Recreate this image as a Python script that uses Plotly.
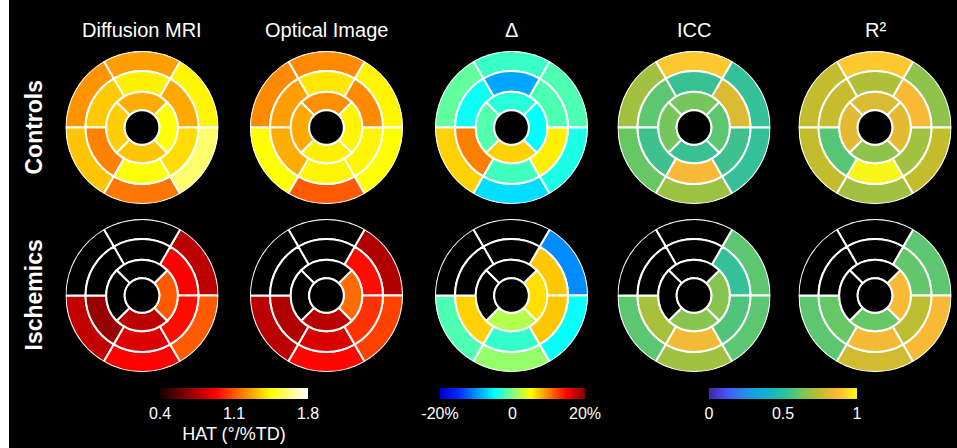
import plotly.graph_objects as go

W, H = 957, 448

# Segment order: outer ring 1-6, middle ring 1-6 (60 deg each, starting east, CCW),
# inner ring 1-4 (90 deg each, centred on N, W, S, E). None = no data.
mri_controls = [1.43, 1.25, 1.23, 1.33, 1.17, 1.60,
                1.27, 1.42, 1.34, 1.19, 1.46, 1.38,
                1.28, 1.35, 1.33, 1.46]
optical_controls = [1.43, 1.21, 1.21, 1.45, 1.11, 1.45,
                    1.21, 1.40, 1.25, 1.28, 1.43, 1.43,
                    1.22, 1.27, 1.42, 1.43]
delta_controls = [-2.0, -2.8, -1.2, 6.8, -6.6, -4.0,
                  -2.0, -9.2, -4.6, 10.0, -2.5, 5.6,
                  -3.5, -1.8, 6.8, -5.0]
icc_controls = [0.52, 0.90, 0.70, 0.61, 0.69, 0.52,
                0.80, 0.53, 0.59, 0.54, 0.86, 0.54,
                0.63, 0.63, 0.53, 0.59]
r2_controls = [0.67, 0.90, 0.75, 0.75, 0.70, 0.75,
               0.86, 0.72, 0.76, 0.58, 0.99, 0.70,
               0.80, 0.82, 0.67, 0.82]

mri_ischemics = [0.77, None, None, 0.79, 0.93, 1.11,
                 0.92, None, None, 0.69, 0.85, 0.95,
                 None, None, 0.77, 1.11]
optical_ischemics = [0.75, None, None, 0.77, 0.94, 1.06,
                     0.95, None, None, 0.75, 0.84, 1.03,
                     None, None, 0.77, 1.15]
delta_ischemics = [-10.4, None, None, -2.0, 0.8, -4.8,
                   7.2, None, None, 6.8, -3.0, 7.2,
                   None, None, 2.0, 6.3]
icc_ischemics = [0.59, None, None, 0.59, 0.70, 0.59,
                 0.52, None, None, 0.71, 0.85, 0.57,
                 None, None, 0.66, 0.66]
r2_ischemics = [0.59, None, None, 0.59, 0.78, 0.86,
                0.60, None, None, 0.61, 0.85, 0.74,
                None, None, 0.61, 0.86]

column_titles = ["Diffusion MRI", "Optical Image", "Δ", "ICC", "R²"]
row_titles = ["Controls", "Ischemics"]

hat_ticks = [0.4, 1.1, 1.8]
hat_ticktext = ["0.4", "1.1", "1.8"]
delta_ticks = [-20, 0, 20]
delta_ticktext = ["-20%", "0", "20%"]
fit_ticks = [0, 0.5, 1]
fit_ticktext = ["0", "0.5", "1"]

# Colour maps
hot = [[0.0, "rgb(20,0,0)"], [0.375, "rgb(255,0,0)"],
       [0.75, "rgb(255,255,0)"], [1.0, "rgb(255,255,255)"]]
jet = [[0.0, "rgb(0,0,200)"], [0.125, "rgb(0,40,255)"], [0.375, "rgb(0,255,255)"],
       [0.625, "rgb(255,255,0)"], [0.875, "rgb(255,0,0)"], [1.0, "rgb(128,0,0)"]]
parula = [[0.0, "rgb(62,38,168)"], [0.12, "rgb(70,85,245)"], [0.25, "rgb(35,145,230)"],
          [0.38, "rgb(15,177,210)"], [0.5, "rgb(40,190,165)"], [0.62, "rgb(110,200,95)"],
          [0.75, "rgb(195,188,45)"], [0.87, "rgb(252,185,55)"], [1.0, "rgb(249,250,20)"]]

# Ring geometry (fraction of outer radius)
r_hole, r_inner, r_mid, r_outer = 0.227, 0.468, 0.738, 1.0
seg_theta = [30, 90, 150, 210, 270, 330] * 2 + [90, 180, 270, 0]
seg_width = [60] * 12 + [90] * 4
seg_base = [r_mid] * 6 + [r_inner] * 6 + [r_hole] * 4
seg_thick = [r_outer - r_mid] * 6 + [r_mid - r_inner] * 6 + [r_inner - r_hole] * 4

col_x = [142, 326.5, 511.5, 694, 875]
row_y = [127.5, 295.5]
R = 76.5

panels = [
    [mri_controls, optical_controls, delta_controls, icc_controls, r2_controls],
    [mri_ischemics, optical_ischemics, delta_ischemics, icc_ischemics, r2_ischemics],
]
scales = [(hot, 0.4, 1.8), (hot, 0.4, 1.8), (jet, -20, 20), (parula, 0, 1), (parula, 0, 1)]

font = "Liberation Sans, Arial, sans-serif"
fig = go.Figure()
layout_polars = {}

colorbars = {
    (1, 0): dict(tickvals=hat_ticks, ticktext=hat_ticktext, x=234 / W, lenpx=148,
                 title="HAT (°/%TD)"),
    (1, 2): dict(tickvals=delta_ticks, ticktext=delta_ticktext, x=512.5 / W, lenpx=145,
                 title=None),
    (1, 3): dict(tickvals=fit_ticks, ticktext=fit_ticktext, x=783 / W, lenpx=148,
                 title=None),
}

k = 0
for ri, row in enumerate(panels):
    for ci, vals in enumerate(row):
        k += 1
        pname = "polar" if k == 1 else f"polar{k}"
        cx, cy = col_x[ci], row_y[ri]
        layout_polars[pname] = dict(
            domain=dict(x=[(cx - R) / W, (cx + R) / W],
                        y=[1 - (cy + R) / H, 1 - (cy - R) / H]),
            bgcolor="black",
            radialaxis=dict(visible=False, range=[0, 1.0]),
            angularaxis=dict(visible=False, rotation=0, direction="counterclockwise"),
            hole=0,
        )
        cmap, lo, hi = scales[ci]
        idx = [i for i, v in enumerate(vals) if v is not None]
        miss = [i for i, v in enumerate(vals) if v is None]
        marker = dict(color=[vals[i] for i in idx], colorscale=cmap, cmin=lo, cmax=hi,
                      line=dict(color="white", width=2))
        cb = colorbars.get((ri, ci))
        if cb:
            marker["showscale"] = True
            marker["colorbar"] = dict(
                orientation="h", x=cb["x"], xanchor="center",
                y=1 - 388 / H, yanchor="top",
                len=cb["lenpx"], lenmode="pixels", thickness=11,
                xpad=0, ypad=0, outlinewidth=0,
                tickvals=cb["tickvals"], ticktext=cb["ticktext"], ticks="",
                tickfont=dict(color="white", size=16, family=font),
                title=dict(text=cb["title"], side="bottom",
                           font=dict(color="white", size=18, family=font)) if cb["title"] else None,
            )
        else:
            marker["showscale"] = False
        fig.add_trace(go.Barpolar(
            r=[seg_thick[i] for i in idx], base=[seg_base[i] for i in idx],
            theta=[seg_theta[i] for i in idx], width=[seg_width[i] for i in idx],
            marker=marker, subplot=pname, hoverinfo="skip", showlegend=False))
        if miss:
            fig.add_trace(go.Barpolar(
                r=[seg_thick[i] for i in miss], base=[seg_base[i] for i in miss],
                theta=[seg_theta[i] for i in miss], width=[seg_width[i] for i in miss],
                marker=dict(color="black", line=dict(color="white", width=2)),
                subplot=pname, hoverinfo="skip", showlegend=False))
        # centre hole outline
        fig.add_trace(go.Barpolar(
            r=[r_hole], base=[0], theta=[0], width=[360],
            marker=dict(color="black", line=dict(color="white", width=2)),
            subplot=pname, hoverinfo="skip", showlegend=False))

annotations = []
for ci, t in enumerate(column_titles):
    annotations.append(dict(text=t, x=col_x[ci] / W, y=1 - 30 / H, xref="paper", yref="paper",
                            xanchor="center", yanchor="middle", showarrow=False,
                            font=dict(color="white", size=20, family=font)))
for ri, t in enumerate(row_titles):
    annotations.append(dict(text=f"<b>{t}</b>", x=33 / W, y=1 - row_y[ri] / H,
                            xref="paper", yref="paper", xanchor="center", yanchor="middle",
                            textangle=-90, showarrow=False,
                            font=dict(color="white", size=23, family=font)))

fig.update_layout(
    width=W, height=H, margin=dict(l=0, r=0, t=0, b=0),
    paper_bgcolor="black", plot_bgcolor="black",
    annotations=annotations,
    shapes=[dict(type="rect", xref="paper", yref="paper", x0=0, x1=9 / W, y0=0, y1=1,
                 fillcolor="white", line=dict(width=0), layer="above")],
    **layout_polars,
)

fig.write_html("out.html")
